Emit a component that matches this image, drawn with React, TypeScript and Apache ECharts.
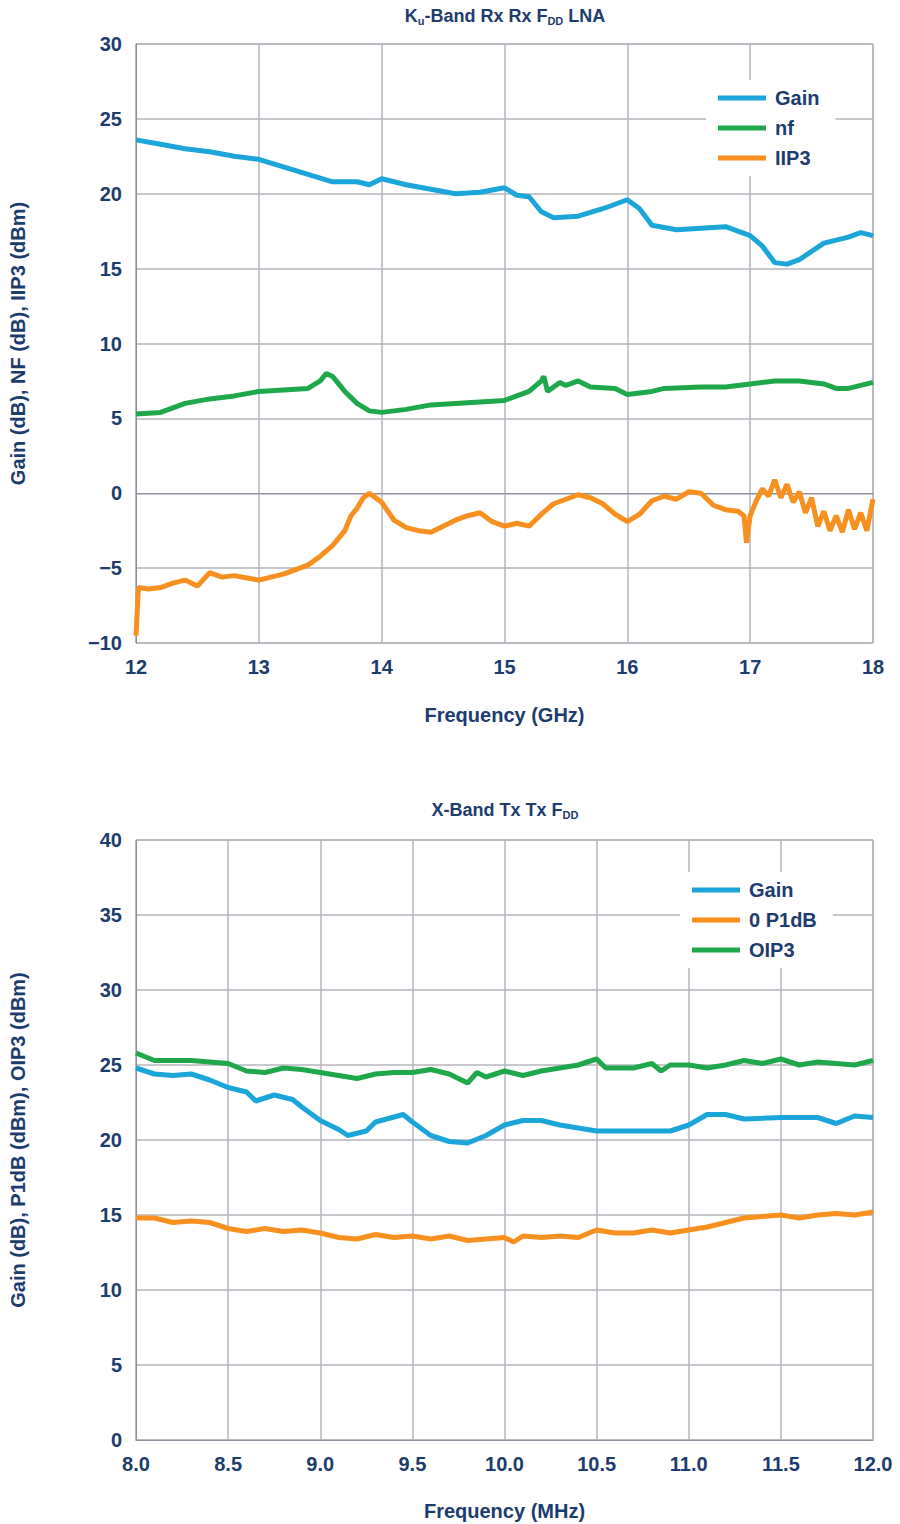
import React, { useEffect, useRef } from "react";
import * as echarts from "echarts";

const topGain: [number, number][] = [[12,23.6],[12.2,23.3],[12.4,23],[12.6,22.8],[12.8,22.5],[13,22.3],[13.2,21.8],[13.4,21.3],[13.6,20.8],[13.8,20.8],[13.9,20.6],[14,21],[14.2,20.6],[14.4,20.3],[14.6,20],[14.8,20.1],[15,20.4],[15.1,19.9],[15.2,19.8],[15.3,18.8],[15.4,18.4],[15.6,18.5],[15.8,19],[16,19.6],[16.1,19],[16.2,17.9],[16.4,17.6],[16.6,17.7],[16.8,17.8],[17,17.2],[17.1,16.5],[17.2,15.4],[17.3,15.3],[17.4,15.6],[17.6,16.7],[17.8,17.1],[17.9,17.4],[18,17.2]];
const topNf: [number, number][] = [[12,5.3],[12.2,5.4],[12.4,6],[12.6,6.3],[12.8,6.5],[13,6.8],[13.2,6.9],[13.4,7],[13.5,7.5],[13.55,8],[13.6,7.8],[13.7,6.8],[13.8,6],[13.9,5.5],[14,5.4],[14.2,5.6],[14.4,5.9],[14.6,6],[14.8,6.1],[15,6.2],[15.2,6.8],[15.3,7.5],[15.32,7.8],[15.35,6.8],[15.45,7.4],[15.5,7.2],[15.6,7.5],[15.7,7.1],[15.9,7],[16,6.6],[16.2,6.8],[16.3,7],[16.6,7.1],[16.8,7.1],[17,7.3],[17.2,7.5],[17.4,7.5],[17.6,7.3],[17.7,7],[17.8,7],[18,7.4]];
const topIip3: [number, number][] = [[12,-9.5],[12.02,-6.3],[12.1,-6.4],[12.2,-6.3],[12.3,-6],[12.4,-5.8],[12.5,-6.2],[12.6,-5.3],[12.7,-5.6],[12.8,-5.5],[13,-5.8],[13.2,-5.4],[13.4,-4.8],[13.5,-4.2],[13.6,-3.5],[13.7,-2.5],[13.75,-1.5],[13.8,-1.0],[13.85,-0.3],[13.9,0],[14,-0.6],[14.1,-1.8],[14.2,-2.3],[14.3,-2.5],[14.4,-2.6],[14.5,-2.2],[14.6,-1.8],[14.7,-1.5],[14.8,-1.3],[14.9,-1.9],[15,-2.2],[15.1,-2.0],[15.2,-2.2],[15.3,-1.4],[15.4,-0.7],[15.5,-0.4],[15.6,-0.1],[15.7,-0.3],[15.8,-0.7],[15.9,-1.4],[16,-1.9],[16.1,-1.4],[16.2,-0.5],[16.3,-0.2],[16.4,-0.4],[16.5,0.1],[16.6,0],[16.7,-0.8],[16.8,-1.1],[16.9,-1.2],[16.95,-1.5],[16.97,-3.3],[17,-1.5],[17.05,-0.5],[17.1,0.3],[17.15,-0.2],[17.2,0.9],[17.25,-0.3],[17.3,0.6],[17.35,-0.6],[17.4,0.1],[17.45,-1.3],[17.5,-0.3],[17.55,-2.2],[17.6,-1.2],[17.65,-2.5],[17.7,-1.5],[17.75,-2.6],[17.8,-1.1],[17.85,-2.4],[17.9,-1.3],[17.95,-2.5],[18,-0.4]];

const botGain: [number, number][] = [[8,24.8],[8.1,24.4],[8.2,24.3],[8.3,24.4],[8.4,24],[8.5,23.5],[8.6,23.2],[8.65,22.6],[8.75,23],[8.85,22.7],[8.9,22.2],[9.0,21.3],[9.1,20.7],[9.15,20.3],[9.25,20.6],[9.3,21.2],[9.45,21.7],[9.5,21.2],[9.6,20.3],[9.7,19.9],[9.8,19.8],[9.9,20.3],[10,21],[10.1,21.3],[10.2,21.3],[10.3,21],[10.5,20.6],[10.7,20.6],[10.9,20.6],[11,21],[11.1,21.7],[11.2,21.7],[11.3,21.4],[11.5,21.5],[11.7,21.5],[11.8,21.1],[11.9,21.6],[12,21.5]];
const botP1dB: [number, number][] = [[8,14.8],[8.1,14.8],[8.2,14.5],[8.3,14.6],[8.4,14.5],[8.5,14.1],[8.6,13.9],[8.7,14.1],[8.8,13.9],[8.9,14.0],[9.0,13.8],[9.1,13.5],[9.2,13.4],[9.3,13.7],[9.4,13.5],[9.5,13.6],[9.6,13.4],[9.7,13.6],[9.8,13.3],[9.9,13.4],[10,13.5],[10.05,13.2],[10.1,13.6],[10.2,13.5],[10.3,13.6],[10.4,13.5],[10.5,14.0],[10.6,13.8],[10.7,13.8],[10.8,14.0],[10.9,13.8],[11,14.0],[11.1,14.2],[11.2,14.5],[11.3,14.8],[11.4,14.9],[11.5,15],[11.6,14.8],[11.7,15],[11.8,15.1],[11.9,15],[12,15.2]];
const botOip3: [number, number][] = [[8,25.8],[8.1,25.3],[8.3,25.3],[8.5,25.1],[8.6,24.6],[8.7,24.5],[8.8,24.8],[8.9,24.7],[9.0,24.5],[9.1,24.3],[9.2,24.1],[9.3,24.4],[9.4,24.5],[9.5,24.5],[9.6,24.7],[9.7,24.4],[9.8,23.8],[9.85,24.5],[9.9,24.2],[10,24.6],[10.1,24.3],[10.2,24.6],[10.3,24.8],[10.4,25],[10.5,25.4],[10.55,24.8],[10.7,24.8],[10.8,25.1],[10.85,24.6],[10.9,25],[11,25],[11.1,24.8],[11.2,25],[11.3,25.3],[11.4,25.1],[11.5,25.4],[11.6,25.0],[11.7,25.2],[11.8,25.1],[11.9,25.0],[12,25.3]];

const BLUE = "#1ba5d8", GREEN = "#1fa84a", ORANGE = "#f7901e", NAVY = "#1c3c6e", GRID = "#b4b4bc";
const FONT = "Liberation Sans";

export default function App() {
  const ref = useRef<HTMLDivElement>(null);
  useEffect(() => {
    const chart = echarts.init(ref.current!, undefined, { renderer: "svg" });
    const lbl = { color: NAVY, fontWeight: "bold", fontSize: 20, fontFamily: FONT };
    const xAx = (idx: number, min: number, max: number, interval: number, dec: number) => ({
      type: "value", gridIndex: idx, min, max, interval,
      name: idx === 0 ? "Frequency (GHz)" : "Frequency (MHz)",
      nameLocation: "middle", nameGap: idx === 0 ? 62 : 61, nameTextStyle: { ...lbl, fontSize: 20 },
      axisLabel: { ...lbl, margin: 14, formatter: (v: number) => v.toFixed(dec) },
      axisLine: { lineStyle: { color: "#8a8f9c", width: 1 } }, axisTick: { show: false },
      splitLine: { show: true, lineStyle: { color: GRID, width: 1.5 } },
    });
    const yAx = (idx: number, min: number, max: number, name: string) => ({
      type: "value", gridIndex: idx, min, max, interval: 5, name,
      nameLocation: "middle", nameGap: 108, nameTextStyle: { ...lbl, fontSize: 20 },
      axisLabel: { ...lbl, margin: 14, formatter: (v: number) => (v < 0 ? "\u2212" + Math.abs(v) : String(v)) },
      axisLine: { show: true, lineStyle: { color: "#8a8f9c", width: 1 } }, axisTick: { show: false },
      splitLine: { show: true, lineStyle: { color: GRID, width: 1.5 } },
    });
    const ser = (name: string, data: any, color: string, i: number) => ({
      type: "line", name, data, xAxisIndex: i, yAxisIndex: i, showSymbol: false, symbol: "none",
      lineStyle: { color, width: 5 }, itemStyle: { color },
    });
    const legendBase = {
      orient: "vertical", backgroundColor: "#fff", itemWidth: 48, itemHeight: 5, itemGap: 10,
      icon: "rect", padding: [8, 16, 8, 12],
      textStyle: { ...lbl, fontSize: 20, padding: [0, 0, 0, 4] },
    };
    const titleRich = {
      b: { ...lbl, fontSize: 18 },
      s: { ...lbl, fontSize: 11, verticalAlign: "bottom", padding: [10, 0, 0, 0] },
    };
    chart.setOption({
      animation: false,
      title: [
        { text: "{b|K}{s|u}{b|-Band Rx Rx F}{s|DD}{b| LNA}", left: 500, top: 0, textAlign: "center", textStyle: { rich: titleRich } },
        { text: "{b|X-Band Tx Tx F}{s|DD}", left: 500, top: 794, textAlign: "center", textStyle: { rich: titleRich } },
      ],
      grid: [
        { left: 130, top: 44, width: 743, height: 599, show: true, borderColor: "#8a8f9c", borderWidth: 1 },
        { left: 130, top: 840, width: 743, height: 600, show: true, borderColor: "#8a8f9c", borderWidth: 1 },
      ],
      xAxis: [xAx(0, 12, 18, 1, 0), xAx(1, 8, 12, 0.5, 1)],
      yAxis: [yAx(0, -10, 30, "Gain (dB), NF (dB), IIP3 (dBm)"), yAx(1, 0, 40, "Gain (dB), P1dB (dBm), OIP3 (dBm)")],
      legend: [
        { ...legendBase, data: ["Gain", "nf", "IIP3"], left: 706, top: 80 },
        { ...legendBase, data: ["Gain ", "0 P1dB", "OIP3"], left: 680, top: 872 },
      ],
      series: [
        ser("Gain", topGain, BLUE, 0),
        ser("nf", topNf, GREEN, 0),
        ser("IIP3", topIip3, ORANGE, 0),
        ser("Gain ", botGain, BLUE, 1),
        ser("0 P1dB", botP1dB, ORANGE, 1),
        ser("OIP3", botOip3, GREEN, 1),
      ],
    });
    return () => chart.dispose();
  }, []);
  return <div ref={ref} style={{ position: "fixed", left: 0, top: 0, width: 900, height: 1524, background: "#fff" }} />;
}
